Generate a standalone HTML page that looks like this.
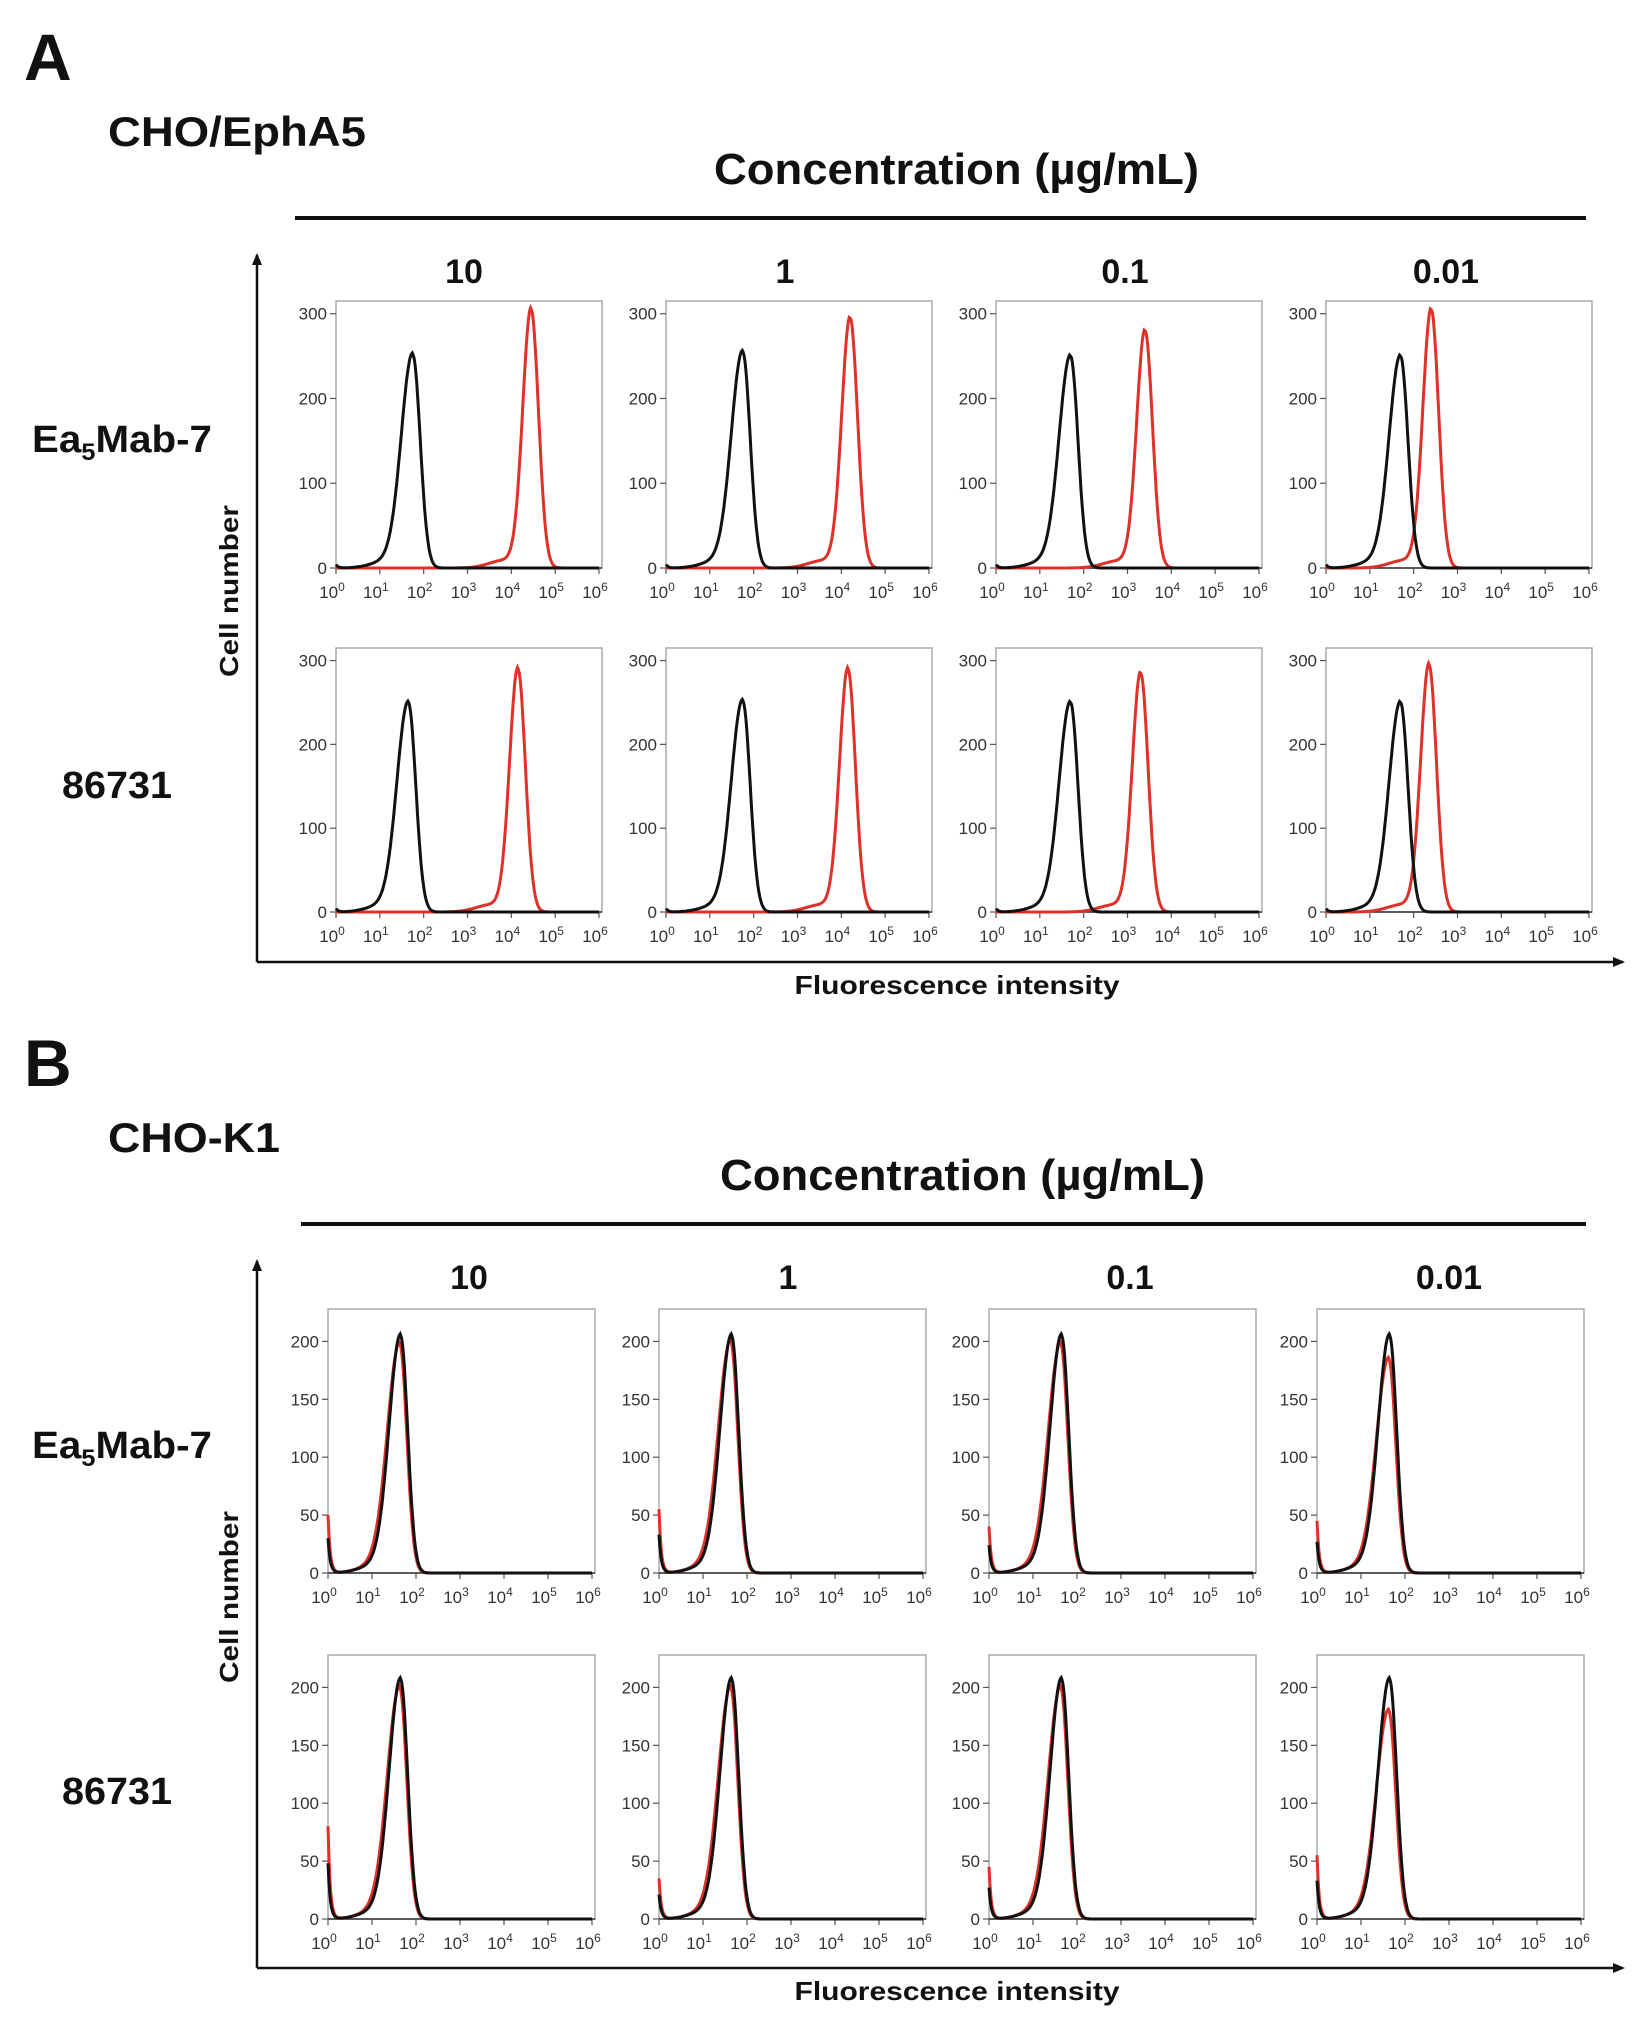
<!DOCTYPE html>
<html><head><meta charset="utf-8"><style>
html,body{margin:0;padding:0;background:#fff;}
svg{display:block;font-family:"Liberation Sans",Arial,sans-serif;}
.b{font-weight:bold;fill:#111;}
.tk{font-size:17px;fill:#333;}
</style></head><body>
<svg id="fig" width="1633" height="2044" viewBox="0 0 1633 2044" xmlns="http://www.w3.org/2000/svg">
<defs><marker id="arr" markerWidth="12" markerHeight="10" refX="10" refY="5" orient="auto" markerUnits="userSpaceOnUse"><path d="M0,0 L12,5 L0,10 z" fill="#111"/></marker></defs>
<g id="static"></g>
</svg>
<script>
// ---- data ----
const concentrations = ["10", "1", "0.1", "0.01"];
const antibodies = ["Ea5Mab-7", "86731"];
const xTickExps = [0, 1, 2, 3, 4, 5, 6];
const yTicksA = [0, 100, 200, 300];
const yTicksB = [0, 50, 100, 150, 200];
// Panel A (CHO/EphA5): peak log10 positions and heights, rows = antibodies
const aBlackPos = [[1.75, 1.75, 1.7, 1.7], [1.65, 1.75, 1.7, 1.7]];
const aBlackHt  = [[252, 255, 250, 250], [250, 252, 250, 250]];
const aRedPos   = [[4.45, 4.2, 3.4, 2.4], [4.15, 4.15, 3.3, 2.35]];
const aRedHt    = [[305, 295, 280, 305], [290, 290, 285, 295]];
// Panel B (CHO-K1)
const bBlackPos = [[1.65, 1.65, 1.65, 1.65], [1.65, 1.65, 1.65, 1.65]];
const bBlackHt  = [[205, 205, 205, 205], [207, 207, 207, 207]];
const bRedPos   = [[1.63, 1.63, 1.63, 1.63], [1.63, 1.63, 1.63, 1.63]];
const bRedHt    = [[198, 200, 198, 185], [200, 200, 200, 180]];
const bEdge     = [[50, 55, 40, 45], [80, 35, 45, 55]];

const NS = "http://www.w3.org/2000/svg";
const svg = document.getElementById("fig");
function mk(tag, attrs, parent) {
  const e = document.createElementNS(NS, tag);
  for (const k in attrs) e.setAttribute(k, attrs[k]);
  (parent || svg).appendChild(e);
  return e;
}
function txt(s, attrs, parent) { const t = mk("text", attrs, parent); t.textContent = s; return t; }

function section(cfg) {
  const g = mk("g", {});
  
  
  let t = txt(cfg.letter, {x: 24, y: cfg.oy + 80, class: "b", "font-size": 66});
  
  
  t = txt(cfg.cell, {x: 108, y: cfg.oy + 146, class: "b", "font-size": 42, textLength: cfg.cellW, lengthAdjust: "spacingAndGlyphs"}, g);
  
  
  t = txt("Concentration (\u00b5g/mL)", {x: cfg.concX, y: cfg.oy + 184, class: "b", "font-size": 44, textLength: 485, lengthAdjust: "spacingAndGlyphs"}, g);
  
  
  const ln = mk("line", {x1: cfg.lineX1, x2: 1586, y1: cfg.oy + 218, y2: cfg.oy + 218, stroke: "#111", "stroke-width": 4}, g);
  
  
  concentrations.forEach((c, i) => {
    const e = txt(c, {x: cfg.colC[i], y: cfg.oy + 283, class: "b", "font-size": 34, "text-anchor": "middle"}, g);
    
    
  });
  let r = txt("", {x: 32, y: cfg.oy + 452, class: "b", "font-size": 38, textLength: 180, lengthAdjust: "spacingAndGlyphs"}, g);
  r.innerHTML = 'Ea<tspan font-size="24" dy="8">5</tspan><tspan dy="-8">Mab-7</tspan>';
  
  
  r = txt("86731", {x: 62, y: cfg.oy + 798, class: "b", "font-size": 38, textLength: 110, lengthAdjust: "spacingAndGlyphs"}, g);
  
  
  const ya = mk("line", {x1: 257, x2: 257, y1: cfg.oy + 962, y2: cfg.oy + 255, stroke: "#111", "stroke-width": 2.5, "marker-end": "url(#arr)"}, g);
  
  
  const xa = mk("line", {x1: 257, x2: 1623, y1: cfg.oy + 962, y2: cfg.oy + 962, stroke: "#111", "stroke-width": 2.5, "marker-end": "url(#arr)"}, g);
  
  
  t = txt("Cell number", {x: 0, y: 0, class: "b", "font-size": 26, "text-anchor": "middle", transform: `translate(238,${cfg.oy + 591}) rotate(-90)`, textLength: 172, lengthAdjust: "spacingAndGlyphs"}, g);
  
  
  t = txt("Fluorescence intensity", {x: 957, y: cfg.oy + 994, class: "b", "font-size": 26, "text-anchor": "middle", textLength: 325, lengthAdjust: "spacingAndGlyphs"}, g);
  
  

  for (let row = 0; row < 2; row++) {
    for (let col = 0; col < 4; col++) {
      const x0 = cfg.colX[col], w = cfg.w;
      const top = cfg.oy + cfg.rowTop[row], ax = cfg.oy + cfg.rowAx[row];
      const pg = mk("g", {}, g);
      
      
      const xs = v => x0 + (v / 6) * (w - 3);
      const ys = v => ax - v / cfg.ymax * (ax - top);
      const box = mk("rect", {x: x0, y: top, width: w, height: ax - top, fill: "none", stroke: "#aaa", "stroke-width": 1.5}, pg);
      
      
      mk("line", {x1: x0, x2: x0 + w, y1: ax, y2: ax, stroke: "#333", "stroke-width": 1.5}, pg);
      cfg.yt.forEach(v => {
        mk("line", {x1: x0 - 6, x2: x0, y1: ys(v), y2: ys(v), stroke: "#555", "stroke-width": 1.2}, pg);
        const l = txt(String(v), {x: x0 - 9, y: ys(v) + 6, class: "tk", "text-anchor": "end"}, pg);
        
        
      });
      xTickExps.forEach(e => {
        mk("line", {x1: xs(e), x2: xs(e), y1: ax, y2: ax + 6, stroke: "#555", "stroke-width": 1.2}, pg);
        const l = txt("", {x: xs(e) - 4, y: ax + 30, class: "tk", "text-anchor": "middle"}, pg);
        l.innerHTML = '10<tspan font-size="12" dy="-7">' + e + '</tspan>';
        
        
      });
      const curve = (mu, h, edge, sl, sr) => {
        let d = "";
        for (let i = 0; i <= 300; i++) {
          const v = i / 50;
          const s = v < mu ? sl : sr;
          let y = h * Math.exp(-((v - mu) ** 2) / (2 * s * s));
          if (v < mu) y += h * 0.03 * Math.exp(-((v - mu + 0.6) ** 2) / 0.25);
          if (edge) y += edge * Math.exp(-v / 0.05);
          d += (i ? "L" : "M") + xs(v).toFixed(1) + "," + ys(Math.min(y, cfg.ymax)).toFixed(1);
        }
        return d;
      };
      const rp = cfg.rp[row][col], rh = cfg.rh[row][col];
      const edge = cfg.edge ? cfg.edge[row][col] : 0;
      const red = mk("path", {d: curve(rp, rh, edge, cfg.rsl, cfg.rsr), fill: "none", stroke: "#e0302a", "stroke-width": 3}, pg);
      
      
      const blk = mk("path", {d: curve(cfg.bp[row][col], cfg.bh[row][col], cfg.edge ? edge * 0.6 : 4, cfg.bsl, cfg.bsr), fill: "none", stroke: "#111", "stroke-width": 3}, pg);
      
      
    }
  }
}

section({name: "section-a-cho-epha5", letter: "A", cell: "CHO/EphA5", cellW: 258, oy: 0, concX: 714, lineX1: 295,
  colC: [464, 785, 1125, 1446], colX: [336, 666, 996, 1326], w: 266,
  rowTop: [301, 648], rowAx: [568, 912], ymax: 315, yt: yTicksA,
  bp: aBlackPos, bh: aBlackHt, rp: aRedPos, rh: aRedHt, edge: null,
  bsl: 0.26, bsr: 0.17, rsl: 0.19, rsr: 0.17});
section({name: "section-b-cho-k1", letter: "B", cell: "CHO-K1", cellW: 172, oy: 1006, concX: 720, lineX1: 301,
  colC: [469, 788, 1130, 1449], colX: [328, 659, 989, 1317], w: 267,
  rowTop: [303, 649], rowAx: [567, 913], ymax: 228, yt: yTicksB,
  bp: bBlackPos, bh: bBlackHt, rp: bRedPos, rh: bRedHt, edge: bEdge,
  bsl: 0.26, bsr: 0.16, rsl: 0.28, rsr: 0.16});
</script>
</body></html>
